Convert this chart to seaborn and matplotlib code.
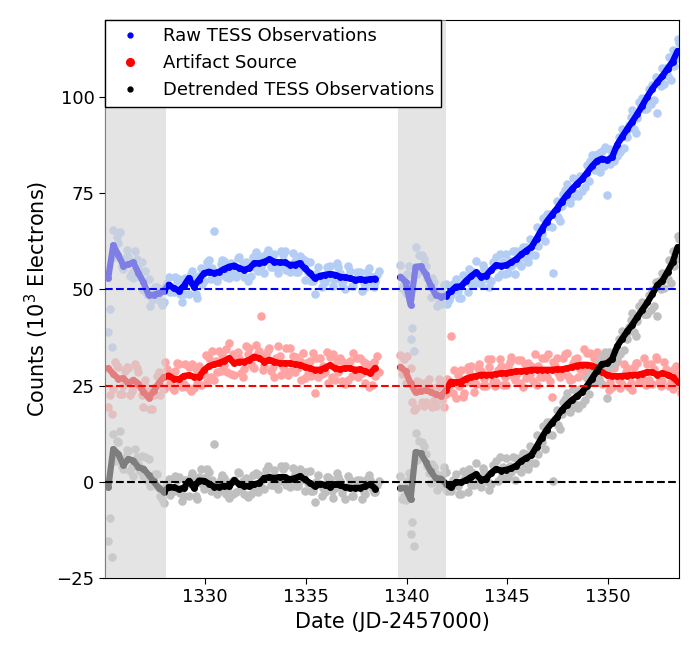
import numpy as np
import pandas as pd
import seaborn as sns
import matplotlib.pyplot as plt
from matplotlib.lines import Line2D

# --- binned light curves (10^3 electrons) ---
# segment 1 starts at 1325.2, segment 2 at 1339.7, both sampled every 0.25 d
seg1_start, seg2_start, step = 1325.2, 1339.7, 0.25

raw1 = [53, 61.5, 59, 56.2, 56.5, 57, 54.2, 51.8, 48.6, 48.6,
        49, 49.6, 51.2, 50.3, 49.7, 50.9, 52.9, 50.7, 52.5, 54.2,
        54.6, 54.2, 54.6, 55.3, 55.9, 56.2, 55.5, 55.1, 55.5, 56.8,
        56.8, 57.2, 57.8, 57.2, 57.0, 57.0, 56.4, 56.4, 56.8, 55.5,
        54.2, 52.9, 53.5, 53.8, 54, 53.8, 53.3, 53.1, 52.9, 52.5,
        52.6, 52.5, 52.6, 52.8]
art1 = [29.5, 28, 26.8, 26.9, 25.6, 26.5, 25.5, 23.4, 21.8, 23.5,
        25.6, 27.2, 27.6, 26.8, 26.6, 27.5, 27.7, 27.3, 27.2, 29.0,
        30.1, 30.5, 30.9, 31.4, 32.1, 30.8, 31.2, 31.2, 31.7, 32.5,
        32.1, 31.2, 31.7, 31.2, 30.8, 30.8, 30.8, 30.5, 30.4, 29.9,
        29.5, 29.1, 29.1, 29.6, 30.3, 29.5, 29.2, 29.5, 29.5, 29.1,
        29.2, 28.7, 28.2, 29.6]
raw2 = [53.3, 52, 46, 55.9, 56, 54, 51, 48.6, 48.1, 48.3,
        49.5, 50.7, 50.8, 52.2, 53.4, 54.4, 53.3, 53.6, 55.1, 56.3,
        56.1, 56.3, 57, 57.9, 59.1, 60.1, 61, 63.2, 65.5, 67.6,
        69.3, 70.9, 72.8, 74.5, 76, 77.4, 78.6, 80.3, 82, 83.4,
        84, 83.6, 84.4, 87.6, 89.7, 91.7, 93.6, 95.6, 97.8, 100.1,
        102.2, 103.9, 105.5, 107.4, 109.2, 112]
art2 = [29.9, 28.7, 25.6, 23.2, 23.6, 23.8, 23.3, 22.7, 22.3, 23.8,
        26, 25.8, 26, 26.8, 27.2, 27.5, 27.8, 27.8, 27.8, 28,
        28.2, 28.2, 28.5, 28.7, 28.7, 28.9, 29.1, 29.1, 29.1, 29.1,
        29.1, 29.2, 29.2, 29.5, 29.8, 30.2, 30.4, 30.4, 30.2, 29.6,
        28.4, 27.8, 27.5, 27.4, 27.5, 27.6, 27.8, 27.8, 28.1, 28.5,
        28.4, 27.8, 28.2, 27.8, 27.2, 26]

# --- unbinned scatter about the binned curves (three samples per bin) ---
raw1_dev_a = [-14, 4, 3, -1, 2, -4, 1, -2, 4, -1,
              0, -3, 2, -1, 3, -2, -4, 2, 1, -2,
              3, 11, -1, 2, -3, 0, 3, -2, 1, -1,
              2, -3, 0, 2, -1, 3, -2, 1, 2, -3,
              3, -4, 0, -2, 2, -1, 1, -3, 2, 0,
              2, -2, 1, -1]
raw1_dev_b = [-8, -3, 6, 2, -3, 3, -1, 3, -3, 2,
              -2, 1, -2, 3, -1, 2, 1, -2, 3, 1,
              -2, 0, 2, -2, 1, -3, -1, 2, -2, 3,
              -1, 2, -2, -1, 3, -2, 0, -2, -1, 2,
              -2, 1, -3, 2, -1, 3, -2, 0, -2, 2,
              -3, 2, -1, 1]
raw1_dev_c = [-18, 2, -3, 4, -2, 1, 3, -3, -1, 2,
              -3, 2, -1, 2, -3, 1, 2, -3, -1, 3,
              1, -2, 3, -1, -2, 2, 1, -3, 3, -2,
              1, 3, -2, -3, 2, -1, 3, -2, 1, -1,
              -2, 3, -1, 2, -3, 2, -1, 3, -2, 1,
              -1, 3, -2, 2]
art1_dev_a = [-10, -4, 3, -2, 4, -2, 3, -4, 2, -1,
              3, -3, 1, -3, 4, -2, 2, -3, 3, -1,
              2, -4, 3, -1, 4, -3, 1, -2, 3, -3,
              2, -1, 3, -4, 2, -2, 4, -2, 1, -3,
              2, -6, 3, -1, 2, -3, 3, -4, 2, -1,
              3, -3, 2, -2]
art1_dev_b = [-7, 3, -4, 2, -3, 4, -1, 3, -3, 1,
              -3, 4, -2, 2, -1, 3, -4, 2, -2, 4,
              -3, 1, -2, 3, -4, 2, -3, 4, -1, 3,
              11, 2, -3, 1, -3, 4, -2, 2, -4, 1,
              -2, 3, -1, 4, -3, 2, -3, 1, -2, 3,
              -1, 2, -3, 3]
art1_dev_c = [-12, 2, -4, 3, -2, 3, -3, 1, -3, 4,
              -1, 2, -3, 4, -2, -3, 3, -2, 1, -3,
              4, -2, 2, -3, 1, 3, -4, 2, -2, 1,
              -3, 3, -2, 4, -1, -3, 2, -1, 3, -2,
              4, -2, 1, -4, 3, -1, 2, -3, 4, -2,
              2, -4, 3, -1]
raw2_dev_a = [3, -3, -9, 5, -1, 2, -3, 1, -2, 3,
              -1, 2, -3, 1, -2, 3, -2, 1, -3, 2,
              -2, 3, -1, 2, -3, 1, -2, 3, -1, 2,
              -3, 2, -1, 3, -2, 1, -3, 2, 3, -1,
              2, -9, 1, -3, 2, -2, 3, -1, 2, -3,
              1, -8, 2, -2, 3, 3]
raw2_dev_b = [-3, 2, -6, -2, 3, -1, 2, -3, 1, -2,
              2, -1, 3, -3, 1, -2, 3, -1, 2, -3,
              1, -2, 3, -1, 2, -3, 1, -2, 3, -1,
              -15, -2, 2, -1, 3, -3, 1, -2, 3, 2,
              -2, 3, -1, 2, -3, 1, -2, 3, -1, 2,
              -3, 1, -2, 3, -1, 2]
raw2_dev_c = [-2, 4, -12, 3, 2, -3, 1, -2, 3, -1,
              2, -3, 1, 3, -2, -1, 2, -3, 1, 3,
              -2, 1, -3, 2, -1, 3, -2, 1, -3, 2,
              1, -3, 3, -2, -1, 2, -2, 3, -1, -3,
              3, -1, 2, -2, 1, 3, -3, 2, -1, -2,
              3, -1, 2, -3, 1, 2]
art2_dev_a = [3, -3, 4, -4, 2, -3, 1, -3, 3, -1,
              12, -4, 3, -1, 3, -2, 1, -3, 4, -2,
              2, -3, 4, -1, 3, -2, 1, -4, 3, -2,
              -7, 3, -1, 4, -3, 2, -1, 3, -2, 4,
              -3, 1, -3, 4, -2, 2, -4, 3, -1, 2,
              -3, 4, -2, 1, -3, 2]
art2_dev_b = [-2, 4, -5, 3, -3, 2, -4, 2, -1, 3,
              -3, 2, -4, 3, -1, 2, -3, 4, -2, 1,
              -3, 2, -1, 3, -4, 2, -3, 1, -2, 4,
              2, -1, 3, -2, 1, -3, 4, -2, 2, -3,
              1, -4, 2, -1, 3, -3, 2, -2, 4, -2,
              1, -2, 3, -3, 2, -1]
art2_dev_c = [2, -3, -7, 2, -4, 3, -2, 4, -3, 1,
              3, -1, -3, 2, -4, 3, -1, 2, -3, 4,
              -1, 3, -2, -3, 2, -1, 4, -2, 3, -3,
              1, -2, 4, -3, 2, -1, -3, 3, -2, 1,
              4, -2, 3, -3, 1, -2, 3, -1, -3, 2,
              4, -3, 1, -2, 3, -3]

# --- build tables ---
def segment(start, raw, art, devs):
    t = start + step * np.arange(len(raw))
    raw, art = np.array(raw), np.array(art)
    binned = pd.DataFrame({"t": t, "raw": raw, "art": art,
                           "det": (raw - 50) - (art - 25)})
    light = []
    for i, (rd, ad) in enumerate(devs):
        r = raw + np.array(rd)
        light.append(pd.DataFrame({"t": t + i * step / len(devs), "raw": r,
                                   "art": art + np.array(ad),
                                   "det": (r - 50) - (art - 25)}))
    return binned, pd.concat(light)

b1, l1 = segment(seg1_start, raw1, art1,
                 [(raw1_dev_a, art1_dev_a), (raw1_dev_b, art1_dev_b), (raw1_dev_c, art1_dev_c)])
b2, l2 = segment(seg2_start, raw2, art2,
                 [(raw2_dev_a, art2_dev_a), (raw2_dev_b, art2_dev_b), (raw2_dev_c, art2_dev_c)])
light = pd.concat([l1, l2])

sns.set_style("ticks")
plt.rcParams['font.family'] = ['DejaVu Sans']
plt.rcParams.update({"text.color": "black", "axes.labelcolor": "black",
                     "xtick.color": "black", "ytick.color": "black"})

fig = plt.figure(figsize=(7, 6.5), dpi=100)
ax = fig.add_axes([0.15, 0.111, 0.82, 0.858])

series = [("raw", "#b3cdf5", "blue"),
          ("art", "#ffa3a3", "red"),
          ("det", "#bfbfbf", "black")]
for col, light_c, dark_c in series:
    sns.scatterplot(data=light, x="t", y=col, color=light_c, s=38,
                    linewidth=0, ax=ax, zorder=1)
    for b in (b1, b2):
        sns.lineplot(data=b, x="t", y=col, color=dark_c, lw=4.5, marker="o",
                     markersize=5, markeredgewidth=0, sort=False,
                     estimator=None, ax=ax, zorder=2)

# momentum dump / scattered light regions
ax.axvspan(1325.0, 1328.07, color="lightgrey", alpha=0.6, lw=0, zorder=3)
ax.axvspan(1339.58, 1341.96, color="lightgrey", alpha=0.6, lw=0, zorder=3)

ax.axhline(50, color="blue", ls="--", lw=1.5, zorder=4)
ax.axhline(25, color="red", ls="--", lw=1.5, zorder=4)
ax.axhline(0, color="black", ls="--", lw=1.5, zorder=4)

ax.set_xlim(1325.04, 1353.52)
ax.set_ylim(-25, 120)
ax.set_xticks([1330, 1335, 1340, 1345, 1350])
ax.set_yticks([-25, 0, 25, 50, 75, 100])
ax.tick_params(labelsize=13, color="black", length=4)
for s in ax.spines.values():
    s.set_color("black")
ax.set_xlabel("Date (JD-2457000)", fontsize=15)
ax.set_ylabel("Counts ($10^3$ Electrons)", fontsize=15)

handles = [Line2D([], [], ls="", marker="o", color="blue", markersize=3.5),
           Line2D([], [], ls="", marker="o", color="red", markersize=5.5),
           Line2D([], [], ls="", marker="o", color="black", markersize=3.5)]
labels = ["Raw TESS Observations", "Artifact Source", "Detrended TESS Observations"]
leg = ax.legend(handles, labels, loc="upper left", fontsize=13, borderaxespad=0,
                fancybox=False, framealpha=1, edgecolor="black")
leg.set_zorder(10)

fig.savefig("out.png", dpi=100)
